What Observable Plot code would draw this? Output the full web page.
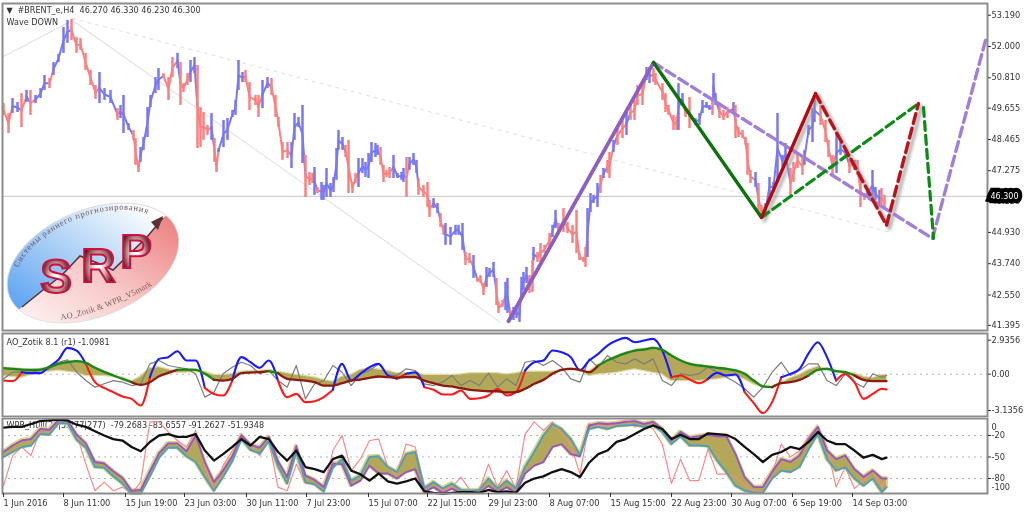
<!DOCTYPE html>
<html><head><meta charset="utf-8">
<script src="https://cdn.jsdelivr.net/npm/d3@7"></script>
<script src="https://cdn.jsdelivr.net/npm/@observablehq/plot@0.6"></script>
<style>
html,body{margin:0;padding:0;background:#fff;overflow:hidden}
#page{position:relative;width:1024px;height:513px;filter:blur(.55px);background:#fff}
#page svg{position:absolute;left:0;background:transparent}
</style></head><body><div id="page"></div>
<script>
// ---------- price bars (slot, high, low, direction) ----------
const barSlot=[3,8,12,17,21,26,30,35,40,44,49,53,58,63,67,71,76,80,85,90,95,99,104,110,117,120,123,128,133,135,138,140,143,147,150,155,158,163,168,172,177,180,183,187,190,194,197,200,203,207,211,214,216,218,223,227,232,235,238,242,245,249,255,258,262,267,271,275,278,282,287,291,294,298,302,305,309,312,314,317,321,323,326,330,333,336,338,342,345,348,352,355,358,362,365,368,371,375,377,380,383,386,389,393,397,401,403,406,409,413,416,418,423,427,429,433,437,440,443,445,450,455,458,462,465,469,473,477,480,483,486,489,493,496,498,502,505,507,510,513,516,519,521,523,526,529,532,533,537,540,544,549,552,555,558,563,567,572,576,579,583,585,587,590,593,597,600,603,607,609,613,617,622,626,630,634,637,642,646,649,653,655,662,665,668,673,676,678,682,685,689,695,699,702,706,709,712,713,715,719,723,727,733,735,738,742,745,747,750,755,758,761,765,769,773,777,782,785,790,793,797,802,804,808,812,814,820,825,828,832,836,840,845,849,854,857,860,864,867,872,875,879,881,884];
const barHigh=[49.83,49.45,50.02,49.87,50.21,50.33,50.33,50.14,50.40,50.90,50.78,51.39,51.70,52.72,52.99,53.03,52.34,52.30,51.74,51.09,50.52,51.01,50.40,50.33,49.64,49.76,50.14,49.07,48.81,48.50,47.55,48.16,48.54,49.68,50.14,50.82,51.16,50.97,50.82,51.58,51.74,51.39,50.59,50.97,51.47,51.58,51.28,49.68,49.49,49.0,49.45,48.50,47.67,48.12,49.19,49.26,49.57,49.95,51.47,51.01,51.09,50.63,50.14,50.14,50.71,50.82,50.78,50.14,49.30,48.35,48.35,48.35,49.45,49.30,49.76,47.86,47.21,47.17,47.40,46.64,46.83,46.72,47.36,46.79,47.02,48.12,48.81,48.54,48.24,48.43,46.83,47.17,47.74,47.74,47.59,47.93,48.35,48.31,48.24,48.16,47.48,47.29,47.40,47.86,47.17,47.21,47.36,47.78,47.78,47.93,47.67,46.98,46.72,46.83,46.15,46.22,46.03,45.65,45.20,45.27,45.12,45.20,45.20,45.27,44.17,44.13,44.05,43.22,43.29,42.99,43.60,43.56,43.79,43.18,42.27,42.34,43.03,43.18,41.96,42.08,42.08,42.08,43.22,43.41,43.60,43.29,43.86,44.36,44.17,44.51,44.44,44.89,45.20,45.77,45.27,45.84,45.31,45.20,45.77,44.13,43.98,44.36,45.84,46.41,46.34,46.79,47.10,47.36,47.67,47.97,48.43,49.0,49.26,49.49,49.76,49.95,50.52,50.63,51.20,51.20,51.16,50.97,50.59,50.21,49.76,49.38,49.30,50.59,50.21,49.68,50.06,49.26,49.45,49.95,49.87,49.76,49.95,50.97,50.21,49.76,49.57,49.68,49.87,49.76,48.92,48.81,48.54,48.31,47.29,47.21,46.79,45.96,46.03,47.02,46.83,49.45,47.86,48.31,47.36,47.59,47.97,47.78,48.05,49.0,49.64,50.02,49.76,49.19,48.43,47.86,48.73,48.35,48.12,47.78,47.67,47.67,47.10,46.41,46.60,47.29,46.64,46.53,46.60,46.34];
const barLow=[49.38,48.69,49.45,49.49,48.92,49.87,49.38,49.83,50.02,50.33,50.40,50.90,51.39,51.74,52.12,52.23,51.74,51.85,51.09,50.52,49.99,49.83,49.95,49.83,49.19,49.26,48.69,48.81,48.43,47.48,47.21,47.59,48.05,48.54,49.68,50.21,50.33,50.78,49.95,50.82,51.16,49.76,50.25,50.52,50.63,50.97,48.12,48.16,48.43,48.62,48.43,47.59,47.21,47.97,48.16,48.43,49.30,49.38,50.33,50.63,50.63,49.57,49.76,49.30,49.64,50.40,50.14,49.30,48.92,47.67,47.74,47.36,48.43,48.92,47.55,46.26,46.72,46.79,46.34,46.41,46.15,46.15,46.26,46.26,46.45,46.91,48.05,48.05,47.78,46.41,46.41,46.79,46.64,47.17,47.02,46.98,47.59,47.78,47.86,47.48,46.83,47.02,46.98,46.98,46.98,46.91,46.83,46.26,47.29,47.48,47.17,46.34,46.26,45.88,45.50,45.84,45.65,45.12,44.82,44.44,44.44,44.82,44.82,44.25,43.67,43.75,43.18,43.03,42.99,42.53,42.84,43.22,43.22,42.15,41.85,42.08,41.96,41.85,41.58,41.58,41.66,41.51,42.42,42.72,42.99,42.61,42.65,43.86,43.79,43.79,44.13,44.36,44.74,45.08,44.89,44.93,44.89,44.51,44.13,43.86,43.79,43.60,43.98,45.69,46.03,45.88,46.41,46.98,47.17,46.98,47.97,48.24,48.50,48.62,49.19,49.19,49.76,49.76,50.71,50.59,50.63,50.52,49.95,49.49,49.38,48.81,48.81,48.81,49.76,49.30,48.88,49.0,49.0,49.45,49.64,49.57,49.38,50.02,49.76,49.26,49.19,49.26,49.45,48.50,48.54,48.50,48.24,47.10,46.79,46.64,45.65,45.46,45.50,46.34,46.45,46.83,47.40,47.48,46.26,46.83,47.36,47.10,47.48,48.62,48.35,49.11,49.0,48.35,47.78,47.10,47.17,47.86,47.78,47.17,47.29,47.10,45.88,46.15,46.22,46.15,46.15,45.88,45.84,45.84];
const barDir=("rrbbrbrbbb"+"rbbbbrrrrr"+"rbbbrbbbrr"+"rbbbbbbrrr"+"brrrbbrrrr"+"brrbbbbbbb"+"rrrrbbrrrr"+"rbbbbrrrbr"+"bbbbbbbbrr"+"rrbbbbbbbr"+"rrrbbbbrbb"+"brrrrbbrrb"+"bbbbrrbrrr"+"bbbrrrbbrb"+"bbbbbrrbrr"+"rrbbrrrrrr"+"rrbbbbrbrr"+"brrbrrrrbb"+"rrrrrrrbbr"+"rbbbbbrbbr"+"rrbrrrrrrb"+"rrbbbbbbrr"+"rrbbbbrrrr"+"bbbrbrrrbb"+"bbrr").split("");
// ---------- wave lines in price ----------
const thinSlot=[3,72,500], thinPrice=[51.62,52.99,41.51];
const dotSlot=[72,890], dotPrice=[53.07,44.93];
const waveA={s:[508,653],p:[41.55,51.39]};
const waveB={s:[653,761],p:[51.39,45.50]};
const waveC={s:[761,815],p:[45.50,50.21]};
const waveRedDash={s:[815,886,918],p:[50.21,45.20,49.83]};
const waveGreenDash1={s:[761,918],p:[45.50,49.83]};
const waveGreenDash2={s:[923,933],p:[49.68,44.70]};
const wavePurpleDash={s:[653,932,985],p:[51.39,44.70,52.23]};
// ---------- axes ----------
const priceTicks=[53.19,52,50.81,49.655,48.465,47.275,46.12,44.93,43.74,42.55,41.395];
const timeTicks=[3,63,125,184,246,306,368,427,488,549,610,671,731,792,852];
const timeLabels=["1 Jun 2016","8 Jun 11:00","15 Jun 19:00","23 Jun 03:00","30 Jun 11:00","7 Jul 23:00","15 Jul 07:00","22 Jul 15:00","29 Jul 23:00","8 Aug 07:00","15 Aug 15:00","22 Aug 23:00","30 Aug 07:00","6 Sep 19:00","14 Sep 03:00"];
// ---------- AO indicator ----------
const aoFast=[-.55,-.60,.17,.09,.09,.66,1.24,2.27,2.04,.89,-.69,-1.18,-1.55,-1.93,-2.13,-2.70,-.26,1.32,1.47,1.98,1.18,1.18,-1.18,-1.70,-1.84,-.55,1.47,1.03,.55,1.18,-.55,-1.98,-1.70,-2.41,-2.33,-1.98,-1.35,.89,-.55,.03,.60,.89,-.11,-.40,.03,.17,-1.12,-1.35,-1.75,-1.75,-1.41,-2.13,-2.07,-1.84,-1.26,-1.84,-1.55,.32,1.03,1.18,2.04,1.90,1.47,.32,1.18,1.75,2.47,2.90,3.13,2.76,2.90,3.05,2.04,-.26,-.11,-.46,-.78,-.40,.11,-.11,-.03,-1.55,-2.50,-3.36,-2.41,-.26,.03,.46,1.81,2.76,1.47,-.55,.03,-.69,-2.13,-1.70,-1.26,-1.32];
const aoFastDir=("rr"+"bbbbbbb"+"rrrrrrr"+"bbbbbb"+"rrr"+"bbbbb"+"rrrrrr"+"bbbbbbb"+"r"+"bb"+"rrrrrrrrrrr"+"bbbbbbbbbbbbbbbb"+"rrrr"+"bbbb"+"rrrr"+"bbbbbb"+"rrrrrrr").split("");
const aoGrey=[-.40,.17,.17,.17,.32,.46,1.03,1.24,.17,-.55,-1.12,-.83,-.55,-.69,-.98,-.83,.89,1.18,.75,.60,.46,.03,-1.98,-1.55,.03,.60,1.03,.75,.03,.32,-.55,-1.12,.75,-2.13,-.83,-.55,.75,.17,-.98,.03,.32,.89,-.11,-.11,.46,.32,-.83,-.98,-.69,-.11,-.98,-.55,-.98,.09,-1.12,-.40,-.98,1.03,1.18,.75,1.18,.60,-.40,-.69,1.32,.60,1.61,1.03,.89,1.32,.89,1.32,-.55,-.98,.03,-.11,.03,.60,.17,-.26,-.69,-1.26,-1.98,-1.12,.17,1.03,-.11,.32,.89,.89,-.55,-.98,.03,-.69,-1.12,.03,-.26,-.11];
const aoSlow=[.52,.46,.40,.37,.40,.60,.89,1.03,1.12,.98,.55,.20,-.11,-.40,-.69,-.92,-.69,-.17,.11,.37,.40,.37,.03,-.49,-.55,-.40,.09,.14,.17,.26,.09,-.40,-.49,-.55,-.69,-.98,-.98,-.78,-.55,-.46,-.32,-.20,-.26,-.29,-.26,-.26,-.55,-.78,-.98,-1.06,-1.21,-1.35,-1.41,-1.47,-1.47,-1.58,-1.55,-1.26,-.83,-.49,.03,.37,.46,.37,.17,.75,1.18,1.52,1.81,2.04,2.13,2.27,2.10,1.61,1.18,.89,.75,.66,.55,.46,.32,.03,-.55,-1.06,-1.12,-.78,-.69,-.49,-.11,.37,.46,.26,.17,-.11,-.49,-.60,-.60,-.60];
const aoSlowDir=("g".repeat(14)+"m".repeat(5)+"g".repeat(4)+"m".repeat(6)+"g"+"m".repeat(35)+"g".repeat(19)+"m".repeat(4)+"g".repeat(5)+"m".repeat(5)).split("");
const aoEdge=[-.11,-.20,-.26,-.03,.17,.26,.37,.26,.17,-.11,-.11,-.11,-.20,-.32,-.69,-.26,.46,.55,.37,.17,.17,.26,.17,-.11,-.11,-.03,.17,.23,.26,.32,.17,.03,-.11,-.20,-.32,-.55,-.69,-.26,-.11,.32,.46,.37,.26,.03,.03,.09,-.11,-.11,-.11,-.11,-.06,.03,.03,.03,.03,-.06,.03,.17,.17,.17,.17,.32,.46,.37,-.11,.03,.09,.17,.32,.46,.32,.17,.03,-.55,-.55,-.55,-.55,-.49,-.40,-.26,-.11,-.40,-.83,-1.12,-1.12,-.83,-.40,-.11,.32,.60,.37,.17,.09,.03,-.26,-.40,-.11,-.11];
const aoLabels=[2.9356,0,-3.1356];
// ---------- WPR indicator ----------
const wprBlack=[-9,-8,-8,-4,0,1,2,1,-5,-8,-14,-20,-25,-27,-36,-42,-29,-20,-18,-22,-22,-18,-41,-55,-46,-36,-25,-34,-22,-25,-43,-55,-41,-64,-67,-71,-53,-48,-69,-74,-83,-73,-84,-87,-84,-80,-98,-100,-101,-100,-99,-99,-100,-96,-99,-98,-100,-86,-80,-77,-71,-67,-71,-78,-58,-46,-41,-29,-25,-18,-11,-6,-11,-25,-19,-25,-25,-17,-18,-19,-25,-36,-46,-57,-47,-43,-36,-39,-29,-15,-27,-32,-32,-41,-51,-47,-53,-51];
const wprRed=[-90,-48,-36,-48,-13,-13,-1,1,-18,-60,-97,-85,-97,-92,-101,-85,-1,-1,-15,-27,-36,-13,-60,-97,-62,-41,-18,-32,-48,-27,-92,-97,-60,-87,-87,-97,-41,-20,-69,-53,-27,-25,-64,-74,-32,-36,-92,-85,-97,-92,-78,-97,-97,-60,-92,-69,-94,-18,-1,-13,-1,-18,-32,-74,-4,-6,-8,-4,1,-8,-4,-11,-32,-87,-53,-83,-83,-39,-74,-74,-78,-90,-97,-99,-74,-32,-50,-41,-22,-8,-36,-92,-64,-94,-83,-69,-92,-80];
const wprTeal=[-50,-43,-36,-34,-18,-19,-3,-3,-26,-37,-64,-65,-77,-87,-101,-101,-77,-51,-37,-37,-49,-57,-78,-97,-78,-56,-25,-40,-45,-28,-63,-87,-43,-85,-88,-98,-65,-53,-83,-76,-50,-49,-64,-71,-46,-43,-94,-85,-94,-87,-96,-97,-96,-80,-94,-83,-94,-64,-43,-20,-4,-11,-25,-47,-11,-8,-11,-7,-6,-5,-8,-6,-15,-32,-21,-34,-34,-35,-55,-71,-90,-97,-99,-100,-80,-69,-71,-64,-39,-18,-53,-69,-64,-80,-90,-80,-99,-92];
const wprPurple=[-43,-34,-27,-25,-11,-12,1,1,-19,-31,-57,-59,-70,-79,-97,-96,-70,-45,-31,-31,-42,-20,-57,-85,-69,-49,-20,-33,-37,-22,-56,-78,-35,-76,-82,-92,-59,-60,-90,-83,-62,-73,-73,-80,-71,-67,-99,-92,-100,-94,-100,-100,-100,-90,-99,-92,-100,-73,-62,-57,-36,-32,-46,-49,-6,-3,-4,-3,-1,0,-4,-1,-11,-27,-15,-23,-21,-19,-21,-21,-46,-78,-92,-92,-71,-53,-57,-48,-25,-8,-41,-53,-48,-67,-78,-69,-80,-80];
const wprGrid=[-20,-50,-80];
const wprAxisTicks=[-20,-50,-80];

const indSlot=d3.range(97).map(k=>3+k*9.15).concat(886);
const idx=d3.range(indSlot.length);
const font="DejaVu Sans";
const xScale={domain:[2,987],range:[2,987],axis:null};
const lit=f=>({value:f,scale:null});
const C={blue:"#7878f4",red:"#fb8080",purple:"#8d5fc0",purpleD:"#a17fd8",green:"#0a740a",greenD:"#0b8a14",redW:"#b4090f",redD:"#b8141a"};
const seg=(w,o)=>Plot.line(w.s.map((s,i)=>({s,p:w.p[i]})),{x:"s",y:"p",...o});
const shadow=w=>seg(w,{stroke:"#999",strokeWidth:4,dx:3,dy:3,strokeOpacity:.7,imageFilter:"blur(1.5px)"});
const yAxisOpts=(fmt)=>({anchor:"right",tickSize:3,tickPadding:1,tickFormat:fmt,fontSize:8.2,fontFamily:font,textAnchor:"start",label:null,color:"#333"});
const title=(t,dx,dy)=>Plot.text([t],{frameAnchor:"top-left",dx,dy,textAnchor:"start",lineAnchor:"middle",fontSize:8.1,fontFamily:font,fill:"#333"});
const bars=d3.range(barSlot.length).map(i=>({s:barSlot[i],h:barHigh[i],l:barLow[i],d:barDir[i]}));
const barColor=lit(d=>d.d==="b"?C.blue:C.red);

// ---------- main pane ----------
const main=Plot.plot({width:1024,height:332,marginLeft:2,marginRight:37,marginTop:3,marginBottom:2,
  x:xScale,y:{domain:[41.20,53.636],axis:null},
  marks:[
    Plot.ruleY([46.3],{stroke:"#cfcfcf",strokeWidth:1.2}),
    Plot.line(thinSlot.map((s,i)=>({s,p:thinPrice[i]})),{x:"s",y:"p",stroke:"#e2e2e2",strokeWidth:1.1}),
    Plot.line(dotSlot.map((s,i)=>({s,p:dotPrice[i]})),{x:"s",y:"p",stroke:"#e2e2e2",strokeWidth:1.1,strokeDasharray:"3,5"}),
    Plot.line(bars,{x:"s",y:d=>(d.h+d.l)/2,z:null,stroke:barColor,strokeWidth:2}),
    Plot.ruleX(bars,{x:"s",y1:"l",y2:"h",stroke:barColor,strokeWidth:2.5}),
    shadow(waveC),shadow(waveRedDash),
    seg(waveA,{stroke:C.purple,strokeWidth:3.8}),
    seg(wavePurpleDash,{stroke:C.purpleD,strokeWidth:3.4,strokeDasharray:"10,5"}),
    seg(waveGreenDash1,{stroke:C.greenD,strokeWidth:3.2,strokeDasharray:"9,5"}),
    seg(waveGreenDash2,{stroke:C.greenD,strokeWidth:3.2,strokeDasharray:"9,5"}),
    seg(waveB,{stroke:C.green,strokeWidth:3.4}),
    seg(waveC,{stroke:C.redW,strokeWidth:3.4}),
    seg(waveRedDash,{stroke:C.redD,strokeWidth:3.4,strokeDasharray:"10,5"}),
    Plot.frame({stroke:"#8c8c8c",strokeWidth:2}),
    Plot.axisY(priceTicks,yAxisOpts(d=>d.toFixed(3))),
    Plot.text([46.3],{x:()=>1004,y:d=>d,text:()=>"46.300",fill:"white",stroke:"black",strokeWidth:8.5,strokeLinejoin:"miter",paintOrder:"stroke",fontSize:8,fontFamily:font,clip:false}),
    title("▼",4,7),
    title("#BRENT_e,H4  46.270 46.330 46.230 46.300",15,7),
    title("Wave DOWN",4,19)
  ]});
main.style.top="0px";
// ---------- AO pane ----------
const pts=idx.map(i=>({s:indSlot[i],f:aoFast[i],g:aoGrey[i],l:aoSlow[i],e:aoEdge[i],fd:aoFastDir[i],ld:aoSlowDir[i]}));
const ao=Plot.plot({width:1024,height:86,marginLeft:2,marginRight:37,marginTop:2,marginBottom:1,
  x:xScale,y:{domain:[-3.65,3.51],axis:null},
  marks:[
    Plot.ruleY([0],{stroke:"#b5b5b5",strokeDasharray:"2,4",strokeWidth:1.1}),
    Plot.areaY(pts,{x:"s",y1:"l",y2:"e",fill:"#b3a858",stroke:"#e0dcaa",strokeWidth:2.5,paintOrder:"stroke"}),
    Plot.line(pts,{x:"s",y:"g",stroke:"#7c7c7c",strokeWidth:1.2}),
    Plot.line(pts,{x:"s",y:"f",z:null,stroke:lit(d=>d.fd==="b"?"#1a1aff":"#ff1a1a"),strokeWidth:2.1,curve:"monotone-x"}),
    Plot.line(pts,{x:"s",y:"l",z:null,stroke:lit(d=>d.ld==="g"?"#18871a":"#8c1a10"),strokeWidth:2.3,curve:"monotone-x"}),
    Plot.frame({stroke:"#8c8c8c",strokeWidth:2}),
    Plot.axisY(aoLabels,yAxisOpts(d=>d===0?"0.00":d.toFixed(4))),
    title("AO_Zotik 8.1 (r1) -1.0981",4,9)
  ]});
ao.style.top="331px";
// ---------- WPR pane ----------
const wp=idx.map(i=>({s:indSlot[i],k:wprBlack[i],r:wprRed[i],a:wprTeal[i],b:wprPurple[i]}));
const edgeLabel=(v,t,dy)=>Plot.text([v],{x:()=>991,y:d=>d,dy,text:()=>t,textAnchor:"start",fontSize:8.2,fontFamily:font,fill:"#333",clip:false});
const wpr=Plot.plot({width:1024,height:96,marginLeft:2,marginRight:37,marginTop:1,marginBottom:20,
  x:xScale,y:{domain:[-100.9,3.7],axis:null},
  marks:[
    Plot.ruleY(wprGrid,{stroke:"#b5b5b5",strokeDasharray:"2,4",strokeWidth:1.1}),
    title("WPR_Hull(21|55|77|277)  -79.2683 -83.6557 -91.2627 -51.9348",4,7),
    Plot.areaY(wp,{x:"s",y1:"a",y2:"b",fill:"#b3a858",stroke:"#d9d48e",strokeWidth:4,paintOrder:"stroke"}),
    Plot.line(wp,{x:"s",y:"r",stroke:"#f98a8a",strokeWidth:1.2}),
    Plot.line(wp,{x:"s",y:"b",stroke:"#9a55c0",strokeWidth:1.9}),
    Plot.line(wp,{x:"s",y:"a",stroke:"#4f9fb8",strokeWidth:1.9}),
    Plot.line(wp,{x:"s",y:"k",stroke:"#111",strokeWidth:2.3}),
    Plot.frame({stroke:"#8c8c8c",strokeWidth:2}),
    Plot.axisY(wprAxisTicks,yAxisOpts(d=>String(d))),
    Plot.axisX(timeTicks,{anchor:"bottom",tickSize:4,tickPadding:3,tickFormat:d=>timeLabels[timeTicks.indexOf(d)],textAnchor:"start",fontSize:8.2,fontFamily:font,label:null,color:"#333"}),
    edgeLabel(0,"0",6),edgeLabel(-100,"-100",-5)
  ]});
wpr.style.top="417px";

const page=document.getElementById("page");
page.append(main,ao,wpr);

// ---------- SRP logo ----------
const logo=document.createElementNS("http://www.w3.org/2000/svg","svg");
logo.setAttribute("width","1024");logo.setAttribute("height","513");logo.style.top="0";logo.style.pointerEvents="none";
logo.innerHTML=`<defs>
<linearGradient id="gB" x1="0" y1="1" x2="1" y2="0"><stop offset=".05" stop-color="#4f9df0"/><stop offset=".45" stop-color="#a9cef5"/><stop offset=".85" stop-color="#ffffff"/></linearGradient>
<linearGradient id="gP" x1="1" y1="0" x2="0" y2="1"><stop offset=".1" stop-color="#ee8080"/><stop offset=".55" stop-color="#f8c9c9"/><stop offset=".95" stop-color="#fff4f4"/></linearGradient>
<radialGradient id="gL" cx=".5" cy=".52" r=".52"><stop offset=".12" stop-color="#ffffff"/><stop offset=".5" stop-color="#c49a9a"/><stop offset=".9" stop-color="#5a0a1c"/></radialGradient>
<clipPath id="cE"><ellipse cx="0" cy="0" rx="90" ry="53.5" transform="translate(93,263) rotate(-22)"/></clipPath>
<path id="arcT" d="M -71 -23.5 A 82 47 0 0 1 69.5 -24.9"/>
<path id="arcB" d="M -51 41 Q 0 51 52 42"/>
</defs>
<g clip-path="url(#cE)">
<rect x="0" y="200" width="185" height="125" fill="url(#gP)"/>
<polygon points="0,325 22,307 43,290 62,275 80,256 100,264 113,270 147,237 163,218 185,200 185,195 0,195" fill="url(#gB)"/>
<polyline points="22,307 43,290 62,275 80,256 100,264 113,270 147,237 163,218" fill="none" stroke="#5a3038" stroke-width="1.5"/>
</g>
<polygon points="163,216 151,222 158,230" fill="#5a3038"/>
<ellipse cx="93" cy="263" rx="90" ry="53.5" transform="rotate(-22 93 263)" fill="none" stroke="#dcdcdc" stroke-width=".8"/>
<g font-family="Liberation Sans" font-weight="700" font-size="48" fill="url(#gL)" stroke="#cc1040" stroke-width="2">
<text x="40" y="293">S</text><text x="81" y="282">R</text><text x="120" y="268">P</text></g>
<g transform="translate(93,263) rotate(-22)" font-family="Liberation Serif" font-size="8.4" fill="#6a5560">
<text><textPath href="#arcT" textLength="150" lengthAdjust="spacing">Системы раннего прогнозирования</textPath></text>
<text fill="#80605c"><textPath href="#arcB" textLength="98">AO_Zotik &amp; WPR_V5mark</textPath></text></g>`;
page.append(logo);
</script>
</body></html>
